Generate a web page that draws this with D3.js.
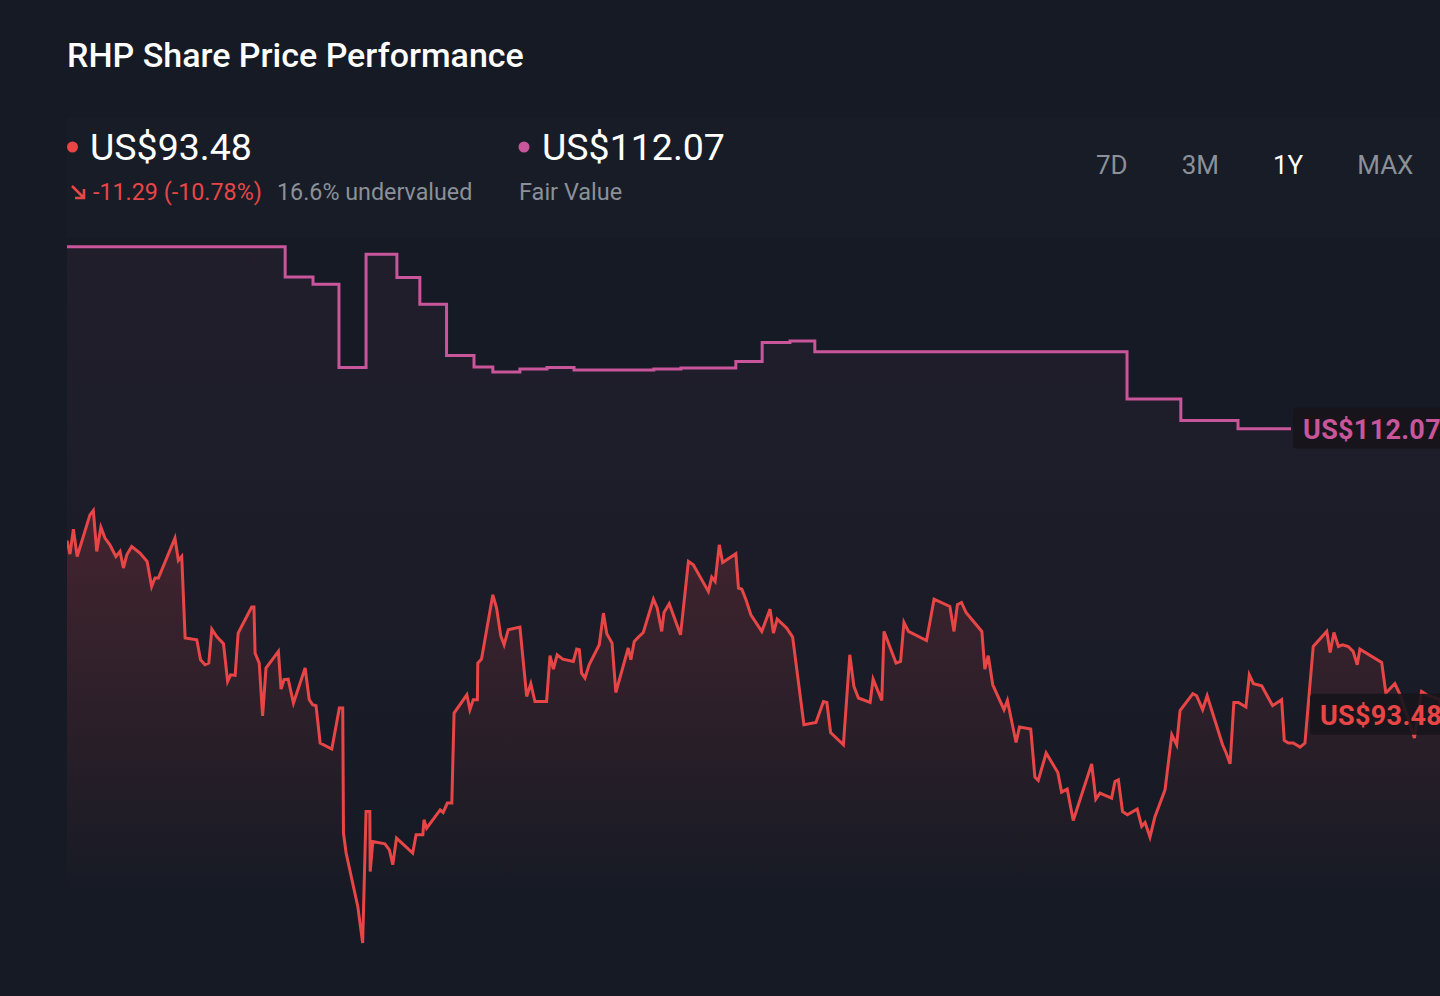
<!DOCTYPE html>
<html>
<head>
<meta charset="utf-8">
<script src="https://cdn.jsdelivr.net/npm/d3@7"></script>
<style>
  html, body { margin: 0; padding: 0; background: #151a24; }
  svg { display: block; font-family: Roboto, "Noto Sans", sans-serif; }
</style>
</head>
<body>
<div id="chart"></div>
<script>
// RHP share price, last 12 months (day of window, USD)
const priceDays = [0, 0.8, 1.7, 2.7, 6.1, 7.0, 7.9, 9.0, 10.1, 11.4,
  13.0, 14.1, 15.0, 15.9, 17.2, 19.4, 21.3, 22.5, 23.4, 24.3,
  28.7, 29.6, 30.5, 31.4, 34.5, 35.5, 36.7, 37.7, 38.5, 39.8,
  41.6, 42.7, 43.5, 44.7, 45.5, 46.4, 49.1, 49.7, 50.0, 51.1,
  52.0, 52.9, 56.2, 56.9, 57.7, 58.8, 60.2, 63.3, 64.4, 65.3,
  66.2, 67.3, 70.4, 72.4, 73.3, 73.5, 74.2, 77.3, 78.6, 79.5,
  80.5, 80.6, 81.3, 84.5, 85.7, 86.6, 87.6, 91.9, 92.8, 94.6,
  94.9, 95.6, 99.2, 100.0, 101.1, 102.3, 102.9, 106.3, 107.1, 108.0,
  109.1, 109.2, 110.2, 113.2, 114.2, 115.3, 116.2, 117.3, 120.4, 122.2,
  123.3, 124.4, 127.5, 128.4, 129.3, 130.3, 131.8, 134.6, 135.5, 136.2,
  136.8, 137.7, 138.8, 141.5, 142.6, 143.5, 144.9, 145.9, 149.2, 149.9,
  150.8, 151.9, 153.2, 155.9, 156.9, 158.1, 158.7, 160.1, 163.1, 165.2,
  166.5, 170.5, 171.4, 172.3, 173.4, 174.3, 177.8, 178.5, 179.4, 180.5,
  181.8, 184.7, 186.9, 187.8, 188.8, 191.3, 192.9, 195.9, 199.1, 201.1,
  202.0, 203.0, 206.4, 208.1, 209.2, 210.4, 213.5, 214.3, 216.6, 217.2,
  220.4, 221.6, 222.5, 223.7, 228.5, 230.5, 234.7, 235.8, 236.7, 237.8,
  239.0, 243.2, 244.0, 244.9, 246.1, 249.1, 250.0, 252.3, 253.2, 256.2,
  257.3, 258.2, 260.3, 263.4, 264.4, 265.9, 267.5, 272.4, 273.5, 274.6,
  277.7, 278.6, 279.5, 280.6, 281.9, 284.5, 285.7, 286.6, 287.9, 289.2,
  291.9, 293.7, 295.0, 295.9, 299.3, 300.3, 301.9, 303.1, 307.2, 308.1,
  309.2, 310.2, 311.4, 313.4, 314.3, 315.4, 317.6, 320.5, 322.9, 323.6,
  324.7, 326.0, 327.8, 329.1, 331.3, 334.9, 335.8, 336.8, 338.0, 339.1,
  340.6, 341.9, 343.0, 343.7, 349.5, 350.6, 353.0, 354.4, 358.2, 360.1,
  361.5, 365.0, 366.0];
const priceValues = [104.81, 103.93, 105.55, 103.77, 106.48, 106.76, 104.10, 105.68, 104.97, 104.53,
  103.77, 104.10, 103.02, 103.88, 104.42, 103.99, 103.45, 101.82, 102.37, 102.37,
  104.97, 103.51, 103.77, 98.47, 98.36, 97.06, 96.73, 96.84, 99.05, 98.57,
  98.10, 95.65, 96.08, 96.04, 98.79, 99.22, 100.48, 100.48, 97.49, 96.84,
  93.41, 96.52, 97.60, 95.15, 95.76, 95.80, 94.24, 96.52, 94.46, 94.13,
  94.07, 91.64, 91.25, 93.92, 93.92, 85.79, 84.49, 81.02, 78.64, 87.19,
  87.19, 83.29, 85.24, 85.09, 84.70, 83.73, 85.46, 84.49, 85.68, 85.68,
  86.65, 86.11, 87.30, 87.13, 87.74, 87.74, 93.59, 94.78, 93.81, 94.46,
  94.46, 96.84, 97.10, 101.28, 100.42, 98.62, 98.03, 99.01, 99.18, 94.67,
  95.50, 94.34, 94.34, 97.32, 96.45, 97.38, 97.10, 96.95, 97.75, 97.71,
  96.19, 95.87, 96.73, 98.03, 100.09, 98.75, 98.14, 94.93, 97.82, 97.06,
  98.25, 98.53, 98.83, 101.00, 100.42, 98.90, 100.13, 100.70, 98.68, 103.45,
  103.23, 101.50, 102.43, 102.15, 104.53, 103.38, 103.95, 101.72, 101.65, 100.96,
  99.98, 98.90, 100.35, 98.79, 99.70, 99.12, 98.53, 92.83, 92.98, 94.34,
  94.28, 92.33, 91.53, 97.38, 95.32, 94.57, 94.28, 95.80, 94.41, 98.90,
  96.84, 96.95, 99.48, 98.90, 98.31, 101.00, 100.52, 98.90, 100.63, 100.78,
  100.13, 98.90, 96.45, 97.32, 95.43, 93.81, 94.41, 91.68, 92.68, 92.55,
  89.43, 89.21, 90.99, 89.73, 88.45, 88.65, 86.61, 90.29, 88.00, 88.39,
  88.06, 89.14, 89.25, 87.19, 86.98, 87.35, 86.22, 86.48, 85.53, 86.83,
  88.60, 92.18, 91.53, 93.76, 94.85, 94.72, 93.81, 94.72, 91.53, 91.03,
  90.29, 94.28, 94.28, 93.98, 96.08, 95.50, 95.37, 94.07, 94.46, 91.81,
  91.64, 91.64, 91.38, 91.64, 97.92, 98.90, 97.53, 98.83, 97.92, 98.03,
  97.92, 97.60, 96.73, 97.75, 96.88, 94.89, 95.50, 94.78, 91.97, 94.99,
  94.78, 94.46, 93.48];

// fair value estimate, changes on the listed days
const fairDays = [0, 58.0, 65.4, 72.3, 79.5, 87.7, 93.8, 100.9, 108.2, 113.2,
  120.4, 127.6, 134.8, 156.0, 163.2, 177.8, 184.8, 192.2, 198.8, 281.8,
  296.1, 311.3, 325.4];
const fairValues = [123.91, 121.94, 121.48, 116.06, 123.43, 121.91, 120.18, 116.84, 116.09, 115.76,
  115.96, 116.06, 115.89, 115.96, 116.02, 116.45, 117.69, 117.78, 117.08, 114.01,
  112.62, 112.07, 112.07];

const rangeLabels = ["7D", "3M", "1Y", "MAX"];
const activeRange = "1Y";

const lastPrice = 93.48;
const fairValue = 112.07;
const priceChange = "-11.29 (-10.78%)";
const valuation = "16.6% undervalued";

const width = 1440, height = 996;
const red = "#e84646", pink = "#c9559b", grey = "#8b9099";

const svg = d3.select("#chart").append("svg")
  .attr("width", width)
  .attr("height", height);

svg.append("rect")
  .attr("width", width).attr("height", height)
  .attr("fill", "#151a24");

const x = d3.scaleLinear().domain([0, 365]).range([67, 1440]);
const y = d3.scaleLinear().domain([75, 125]).range([999, 230]);
const fadeBottom = 905;

const price = d3.zip(priceDays, priceValues);
const fair = d3.zip(fairDays, fairValues);
// the fill under the fair value runs on to the right edge
const fairFillData = fair.concat([[365, fairValues[fairValues.length - 1]]]);

// gradients for the area fills
const defs = svg.append("defs");
const grad = (id, color, top, a0, a1) => {
  const g = defs.append("linearGradient")
    .attr("id", id)
    .attr("gradientUnits", "userSpaceOnUse")
    .attr("x1", 0).attr("x2", 0)
    .attr("y1", top).attr("y2", fadeBottom);
  g.append("stop").attr("offset", "0%").attr("stop-color", color).attr("stop-opacity", a0);
  g.append("stop").attr("offset", "100%").attr("stop-color", color).attr("stop-opacity", a1);
};
grad("fairFill", pink, y(d3.max(fairValues)), 0.07, 0.0);
grad("priceFill", red, y(d3.max(priceValues)), 0.19, 0.0);

defs.append("clipPath").attr("id", "plotClip")
  .append("rect").attr("x", x(0)).attr("y", 0)
  .attr("width", x(365) - x(0)).attr("height", fadeBottom + 60);

// header panel
svg.append("rect")
  .attr("x", 67).attr("y", 118).attr("width", width - 67).attr("height", 120)
  .attr("fill", "#ffffff").attr("opacity", 0.012);

const plot = svg.append("g").attr("clip-path", "url(#plotClip)");

plot.append("path")
  .datum(fairFillData)
  .attr("fill", "url(#fairFill)")
  .attr("d", d3.area().curve(d3.curveStepAfter)
    .x(d => x(d[0])).y0(y(75)).y1(d => y(d[1])));

plot.append("path")
  .datum(price)
  .attr("fill", "url(#priceFill)")
  .attr("d", d3.area()
    .x(d => x(d[0])).y0(y(75)).y1(d => y(d[1])));

plot.append("path")
  .datum(fair)
  .attr("fill", "none")
  .attr("stroke", pink)
  .attr("stroke-width", 3)
  .attr("d", d3.line().curve(d3.curveStepAfter).x(d => x(d[0])).y(d => y(d[1])));

plot.append("path")
  .datum(price)
  .attr("fill", "none")
  .attr("stroke", red)
  .attr("stroke-width", 3)
  .attr("stroke-linejoin", "miter")
  .attr("d", d3.line().x(d => x(d[0])).y(d => y(d[1])));

// end-of-series value tags
const tag = (value, startX, color) => {
  const cy = y(value);
  svg.append("rect")
    .attr("x", startX).attr("y", cy - 21)
    .attr("width", width - startX + 10).attr("height", 41)
    .attr("rx", 4)
    .attr("fill", "#17141b").attr("opacity", 0.9);
  svg.append("text")
    .attr("x", startX + 10).attr("y", cy + 10)
    .attr("fill", color)
    .attr("font-size", 27).attr("font-weight", 700)
    .attr("letter-spacing", 0.3)
    .text("US$" + d3.format(".2f")(value));
};
tag(fairValue, x(fairDays[fairDays.length - 1]) + 2, pink);
tag(lastPrice, 1310, red);

// title and header
svg.append("text")
  .attr("x", 67).attr("y", 67)
  .attr("fill", "#ffffff")
  .attr("font-size", 34).attr("font-weight", 500)
  .text("RHP Share Price Performance");

svg.append("circle").attr("cx", 72.5).attr("cy", 147).attr("r", 5.5).attr("fill", red);
svg.append("text")
  .attr("x", 90).attr("y", 160)
  .attr("fill", "#ffffff").attr("font-size", 37.5)
  .text("US$" + d3.format(".2f")(lastPrice));

svg.append("path")
  .attr("d", "M72,186 L84,198 M84,189 L84,198 L75,198")
  .attr("fill", "none").attr("stroke", red).attr("stroke-width", 2.6);
svg.append("text")
  .attr("x", 93).attr("y", 200)
  .attr("fill", red).attr("font-size", 23.3)
  .text(priceChange);
svg.append("text")
  .attr("x", 277).attr("y", 200)
  .attr("fill", grey).attr("font-size", 23.3)
  .text(valuation);

svg.append("circle").attr("cx", 524).attr("cy", 147).attr("r", 5.5).attr("fill", pink);
svg.append("text")
  .attr("x", 542).attr("y", 160)
  .attr("fill", "#ffffff").attr("font-size", 37.5)
  .text("US$" + d3.format(".2f")(fairValue));
svg.append("text")
  .attr("x", 519).attr("y", 200)
  .attr("fill", grey).attr("font-size", 23.5)
  .text("Fair Value");

// range selector, words laid out with an even gap
const rangeG = svg.append("g");
let cursor = 1096;
rangeLabels.forEach(label => {
  const t = rangeG.append("text")
    .attr("x", cursor)
    .attr("y", 174)
    .attr("font-size", 26)
    .attr("fill", label === activeRange ? "#ffffff" : grey)
    .text(label);
  cursor += t.node().getComputedTextLength() + 54;
});
</script>
</body>
</html>
